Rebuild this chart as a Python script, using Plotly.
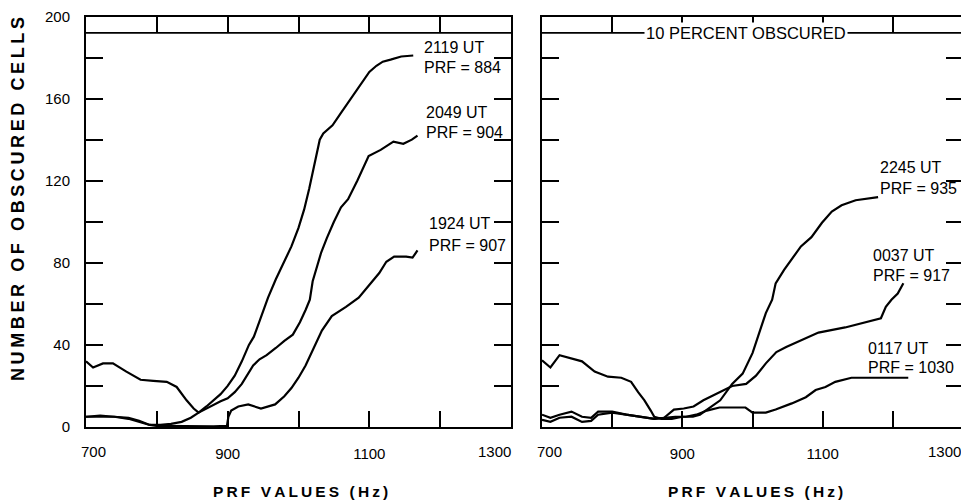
import plotly.graph_objects as go

# ---------------- data ----------------
# Left panel
l2119_x = [700, 710, 724, 738, 757, 777, 795, 814, 828, 842, 852, 859, 870, 880, 890, 900, 910, 920, 930, 937,
           945, 957, 968, 980, 990, 1000, 1008, 1015, 1020, 1025, 1030, 1035, 1048, 1060, 1068, 1076, 1088,
           1100, 1110, 1119, 1130, 1145, 1162]
l2119_y = [32, 29, 31, 31, 27, 23, 22.5, 22, 19.5, 13, 9, 7, 10, 13, 16, 20, 25, 32, 40, 44,
           52, 63, 72, 81, 88, 97, 106, 116, 124, 133, 140, 143, 147, 153, 157, 161, 167,
           173, 176, 178, 179, 180.5, 181]

l2049_x = [700, 720, 740, 760, 775, 790, 805, 820, 835, 848, 859, 870, 880, 890, 900, 910, 920, 930, 936, 945,
           955, 968, 980, 992, 1002, 1010, 1016, 1020, 1026, 1032, 1040, 1050, 1060, 1070, 1083, 1092, 1099,
           1116, 1134, 1148, 1160, 1168]
l2049_y = [5, 5.5, 5, 4.5, 3, 1, 1, 1.5, 2.5, 4.5, 7, 9, 11, 12.5, 14, 17, 21, 27, 30, 33,
           35, 38.5, 42, 45, 51, 57, 62, 71, 78, 85, 92, 100, 107, 111, 120, 127, 132,
           135, 139, 138, 140, 142]

l1924_x = [700, 720, 740, 760, 775, 790, 800, 850, 880, 899, 901, 905, 915, 929, 947, 967, 980, 990, 1000,
           1010, 1018, 1033, 1047, 1067, 1085, 1100, 1114, 1124, 1135, 1152, 1161, 1168]
l1924_y = [5, 5, 5, 4, 2.5, 1, 0.5, 0.3, 0.3, 0.5, 5, 8, 10, 11, 9, 11, 15, 19, 24,
           30, 36, 47, 54, 58.5, 63, 69, 75, 80.5, 83, 83, 82.5, 86]

# Right panel
r2245_x = [700, 712, 725, 742, 757, 775, 794, 813, 827, 837, 846, 855, 860, 870, 885, 900, 915, 925, 936,
           954, 971, 986, 1000, 1010, 1019, 1028, 1033, 1045, 1055, 1069, 1084, 1099, 1113, 1127, 1147,
           1160, 1179]
r2245_y = [32.5, 29, 35, 33.5, 32, 27, 24.5, 24, 22, 17, 13, 8, 5, 4, 4, 5, 5, 6, 8.5,
           13, 21, 26, 36, 46, 55.5, 62, 70, 76.5, 81.5, 88, 92.5, 99.5, 105, 108, 110.5,
           111, 112]

r0037_x = [700, 712, 725, 742, 757, 770, 780, 800, 820, 840, 860, 874, 888, 902, 916, 930, 950, 971, 991,
           1005, 1019, 1034, 1048, 1070, 1094, 1132, 1161, 1175, 1183, 1190, 1198, 1207, 1215]
r0037_y = [3.5, 2.5, 4.5, 5, 2.5, 3, 6, 7, 6, 5, 4, 4.5, 8.5, 9, 10, 13, 16.5, 20, 21,
           25, 31, 36.5, 39, 42.5, 46, 48.5, 51, 52, 53, 58.5, 62, 65, 70]

r0117_x = [700, 712, 725, 742, 757, 770, 780, 800, 820, 840, 860, 875, 890, 905, 920, 935, 953, 971, 990,
           996, 1000, 1019, 1033, 1056, 1076, 1090, 1104, 1118, 1141, 1189, 1222]
r0117_y = [6, 4.5, 6, 7.5, 5, 4.5, 7.5, 7.5, 6, 5, 4, 4.5, 5, 5, 6, 8, 9.5, 9.5, 9.5,
           8, 7, 7, 8.5, 11.5, 14.5, 18, 19.5, 22, 24, 24, 24]

threshold_x = [700, 1300]
threshold_y = [192, 192]

x_tick_vals = [700, 800, 900, 1000, 1100, 1200, 1300]
x_tick_text = ["700", "", "900", "", "1100", "", "1300"]
y_tick_vals = [0, 20, 40, 60, 80, 100, 120, 140, 160, 180, 200]
y_tick_text = ["0", "", "40", "", "80", "", "120", "", "160", "", "200"]

left_labels = [("2119 UT", 1175, 185), ("PRF = 884", 1175, 175),
               ("2049 UT", 1177, 153.4), ("PRF = 904", 1177, 143.7),
               ("1924 UT", 1182, 99.3), ("PRF = 907", 1182, 88.5)]
right_labels = [("2245 UT", 1179, 126.6), ("PRF = 935", 1179, 116.3),
                ("0037 UT", 1169, 83.7), ("PRF = 917", 1169, 73.9),
                ("0117 UT", 1162, 38.3), ("PRF = 1030", 1162, 29)]

# ---------------- figure ----------------
FONT = "Liberation Sans"
W, H = 961, 496   # page body adds an 8 px margin
OFF = 8

def px_x(p):
    return (p - OFF) / W

def px_y(p):
    return (H - (p - OFF)) / H

fig = go.Figure()

def add_line(x, y, ax, width=2.2):
    fig.add_trace(go.Scatter(x=x, y=y, mode="lines", xaxis=ax[0], yaxis=ax[1],
                             line=dict(color="black", width=width), showlegend=False,
                             hoverinfo="skip"))

for x, y in [(l2119_x, l2119_y), (l2049_x, l2049_y), (l1924_x, l1924_y)]:
    add_line(x, y, ("x", "y"))
add_line(threshold_x, threshold_y, ("x", "y"), 1.6)
for x, y in [(r2245_x, r2245_y), (r0037_x, r0037_y), (r0117_x, r0117_y)]:
    add_line(x, y, ("x2", "y2"))
add_line(threshold_x, threshold_y, ("x2", "y2"), 1.6)

# inner x tick labels on the axis; the two edge labels are placed inset (as in the original)
inner_text = [t if 0 < i < len(x_tick_text) - 1 else "" for i, t in enumerate(x_tick_text)]

xbase = dict(range=[700, 1300], tickmode="array", tickvals=x_tick_vals, ticktext=inner_text,
             ticks="inside", ticklen=16, tickwidth=2, tickcolor="black",
             showline=True, linewidth=2, linecolor="black", mirror="ticks",
             showgrid=False, zeroline=False, ticklabelstandoff=12, automargin=False,
             ticklabeloverflow="allow",
             tickfont=dict(family=FONT, size=15, color="black"))
ybase = dict(range=[0, 200], tickmode="array", tickvals=y_tick_vals, ticktext=y_tick_text,
             ticks="inside", ticklen=17, tickwidth=2, tickcolor="black",
             showline=True, linewidth=2, linecolor="black", mirror="ticks",
             showgrid=False, zeroline=False, ticklabelstandoff=11, automargin=False,
             ticklabeloverflow="allow",
             tickfont=dict(family=FONT, size=15, color="black"))

ydom = [px_y(427), px_y(16.5)]
fig.update_layout(
    width=W, height=H,
    margin=dict(l=0, r=0, t=0, b=0, autoexpand=False),
    paper_bgcolor="white", plot_bgcolor="white",
    xaxis=dict(xbase, domain=[px_x(86), px_x(511)], anchor="y"),
    yaxis=dict(ybase, domain=ydom, anchor="x"),
    xaxis2=dict(xbase, domain=[px_x(542), px_x(963)], anchor="y2"),
    yaxis2=dict(ybase, domain=ydom, anchor="x2", showticklabels=False),
)

anns = []
tick_font = dict(family=FONT, size=15, color="black")
# edge tick labels: (axis, value, anchor, shift)
for xr, val, anchor, shift in [("x", x_tick_vals[0], "left", -7), ("x", x_tick_vals[-1], "right", 2),
                               ("x2", x_tick_vals[0], "left", -7), ("x2", x_tick_vals[-1], "right", 0)]:
    text = x_tick_text[0] if val == x_tick_vals[0] else x_tick_text[-1]
    anns.append(dict(text=text, x=val, y=px_y(451), xref=xr, yref="paper", xanchor=anchor,
                     yanchor="middle", xshift=shift, showarrow=False, font=tick_font))

for t, x, y in left_labels:
    anns.append(dict(text=t, x=x, y=y, xref="x", yref="y", xanchor="left", yanchor="middle",
                     showarrow=False, font=dict(family=FONT, size=16, color="black")))
for t, x, y in right_labels:
    anns.append(dict(text=t, x=x, y=y, xref="x2", yref="y2", xanchor="left", yanchor="middle",
                     showarrow=False, font=dict(family=FONT, size=16, color="black")))
anns.append(dict(text="10 PERCENT OBSCURED", x=991, y=192, xref="x2", yref="y2",
                 xanchor="center", yanchor="middle", showarrow=False, bgcolor="white",
                 borderpad=1, font=dict(family=FONT, size=16.5, color="black")))

ts = "\u2009"
xtitle = ts.join("PRF VALUES (Hz)")
ytitle = ts.join("NUMBER OF OBSCURED CELLS")
for cx in [300, 755]:
    anns.append(dict(text="<b>" + xtitle + "</b>", x=px_x(cx), y=px_y(491), xref="paper", yref="paper",
                     xanchor="center", yanchor="middle", showarrow=False,
                     font=dict(family=FONT, size=15.5, color="black")))
anns.append(dict(text="<b>" + ytitle + "</b>", x=px_x(18), y=px_y(199), xref="paper", yref="paper",
                 xanchor="center", yanchor="middle", showarrow=False, textangle=-90,
                 font=dict(family=FONT, size=18, color="black")))
fig.update_layout(annotations=anns)

fig.write_html("out.html")
